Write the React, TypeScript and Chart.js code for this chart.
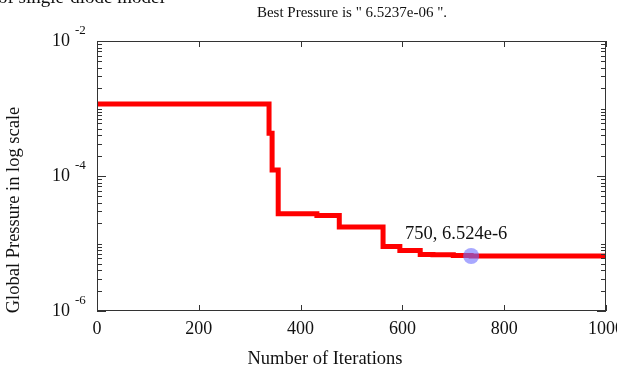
import React, { useEffect, useRef } from "react";
import { Chart, registerables } from "chart.js";

Chart.register(...registerables);

const iterations = [0, 338, 344, 356, 432, 476, 562, 595, 635, 660, 700, 735, 1000];
const pressures = [1.17e-3, 4.3e-4, 1.23e-4, 2.75e-5, 2.6e-5, 1.75e-5, 9.0e-6, 7.9e-6, 6.9e-6, 6.8e-6, 6.65e-6, 6.5237e-6, 6.5237e-6];
const markerPoint = { x: 735, y: 6.5237e-6 };
const markerLabel = "750, 6.524e-6";
const xTicks = [0, 200, 400, 600, 800, 1000];
const yDecadeExps = [-2, -4, -6];
const titleText = 'Best Pressure is " 6.5237e-06 ".';
const clippedText = "of single-diode model";
const xTitle = "Number of Iterations";
const yTitle = "Global Pressure in log scale";

const SERIF = "'Liberation Serif', 'DejaVu Serif', serif";

const decorPlugin = {
  id: "decor",
  afterDatasetsDraw(chart: any) {
    const ctx = chart.ctx as CanvasRenderingContext2D;
    const xs = chart.scales.x;
    const ys = chart.scales.y;
    const { left, right, top, bottom } = chart.chartArea;
    ctx.save();
    // frame
    ctx.strokeStyle = "#333";
    ctx.lineWidth = 1;
    ctx.strokeRect(left + 0.5, top + 0.5, right - left - 1, bottom - top - 1);
    // x ticks
    ctx.beginPath();
    for (const v of xTicks) {
      const px = Math.round(xs.getPixelForValue(v)) + 0.5;
      ctx.moveTo(px, bottom);
      ctx.lineTo(px, bottom - 6);
      ctx.moveTo(px, top);
      ctx.lineTo(px, top + 6);
    }
    // y ticks
    for (let e = -6; e < -2; e++) {
      for (let k = 1; k <= 9; k++) {
        const val = k * Math.pow(10, e);
        const py = Math.round(ys.getPixelForValue(val)) + 0.5;
        const major = k === 1 && yDecadeExps.includes(e);
        const len = major ? 9 : 5;
        ctx.moveTo(left, py);
        ctx.lineTo(left + len, py);
        ctx.moveTo(right, py);
        ctx.lineTo(right - len, py);
      }
    }
    {
      const py = Math.round(ys.getPixelForValue(1e-2)) + 0.5;
      ctx.moveTo(left, py);
      ctx.lineTo(left + 9, py);
      ctx.moveTo(right, py);
      ctx.lineTo(right - 9, py);
    }
    ctx.stroke();

    ctx.fillStyle = "#111";
    // x tick labels
    ctx.font = `18px ${SERIF}`;
    ctx.textAlign = "center";
    ctx.textBaseline = "middle";
    for (const v of xTicks) {
      ctx.fillText(String(v), xs.getPixelForValue(v), bottom + 18);
    }
    // y tick labels
    for (const e of yDecadeExps) {
      const py = ys.getPixelForValue(Math.pow(10, e));
      ctx.font = `18px ${SERIF}`;
      ctx.textAlign = "right";
      ctx.textBaseline = "middle";
      ctx.fillText("10", left - 27, py);
      ctx.font = `13px ${SERIF}`;
      ctx.textAlign = "left";
      ctx.fillText(String(e), left - 22, py - 10);
    }
    // titles
    ctx.font = `18.5px ${SERIF}`;
    ctx.textAlign = "center";
    ctx.textBaseline = "middle";
    ctx.fillText(xTitle, 325, bottom + 48);
    ctx.save();
    ctx.translate(14, 210);
    ctx.rotate(-Math.PI / 2);
    ctx.fillText(yTitle, 0, 0);
    ctx.restore();
    ctx.font = `15px ${SERIF}`;
    ctx.fillText(titleText, 352, 13);
    // clipped top text
    ctx.font = `19px ${SERIF}`;
    ctx.textAlign = "left";
    ctx.textBaseline = "alphabetic";
    ctx.fillText(clippedText, -2, 3);
    // annotation label
    ctx.font = `18.5px ${SERIF}`;
    ctx.textAlign = "left";
    ctx.textBaseline = "middle";
    ctx.fillText(markerLabel, xs.getPixelForValue(markerPoint.x) - 66, ys.getPixelForValue(markerPoint.y) - 22);
    ctx.restore();
  },
};

export default function App() {
  const ref = useRef<HTMLCanvasElement | null>(null);
  useEffect(() => {
    document.body.style.margin = "0";
    const chart = new Chart(ref.current as HTMLCanvasElement, {
      type: "line",
      data: {
        datasets: [
          {
            data: iterations.map((x, i) => ({ x, y: pressures[i] })),
            borderColor: "#ff0000",
            borderWidth: 5,
            pointRadius: 0,
            stepped: "before",
            fill: false,
            order: 2,
          },
          {
            type: "scatter",
            data: [markerPoint],
            pointRadius: 8,
            pointBackgroundColor: "rgba(110,110,255,0.6)",
            pointBorderWidth: 0,
            borderWidth: 0,
            showLine: false,
            order: 1,
          } as any,
        ],
      },
      options: {
        animation: false,
        responsive: false,
        events: [],
        layout: { padding: { left: 97, right: 11, top: 41, bottom: 63 } },
        plugins: { legend: { display: false }, tooltip: { enabled: false } },
        scales: {
          x: { type: "linear", min: 0, max: 1000, display: false },
          y: { type: "logarithmic", min: 1e-6, max: 1e-2, display: false },
        },
      },
      plugins: [decorPlugin],
    });
    return () => chart.destroy();
  }, []);
  return (
    <div style={{ position: "fixed", left: 0, top: 0, width: 617, height: 374, background: "#fff" }}>
      <canvas ref={ref} width={617} height={374} />
    </div>
  );
}
